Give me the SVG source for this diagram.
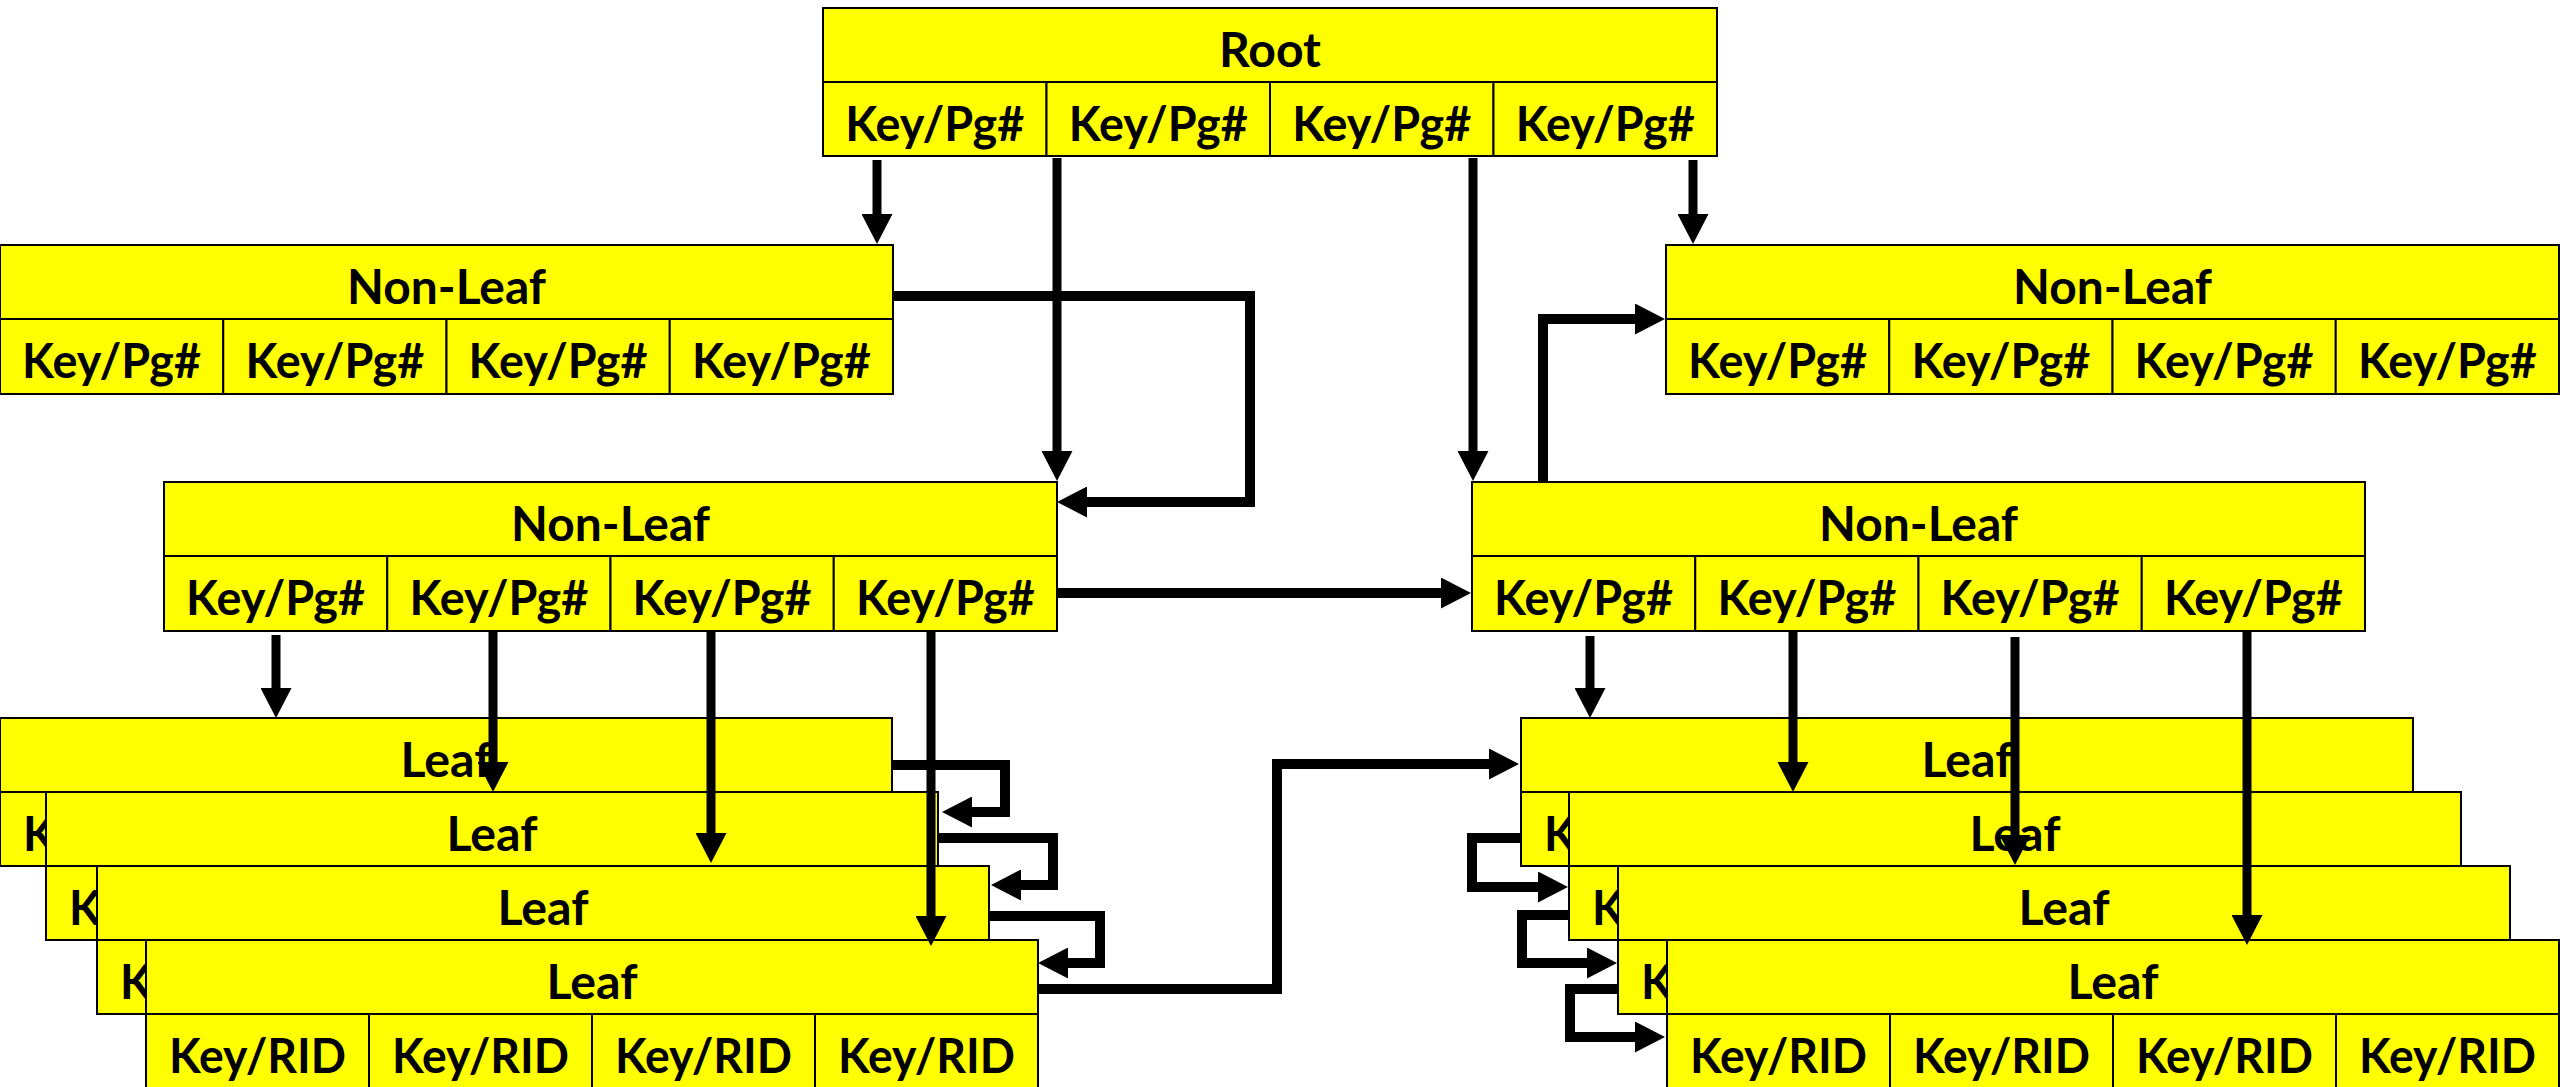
<svg xmlns="http://www.w3.org/2000/svg" width="2560" height="1087" viewBox="0 0 2560 1087">
<style>
.box{fill:#ffff00;stroke:#000;stroke-width:2}
.t{font-family:Lato,"Open Sans","Liberation Sans",sans-serif;font-weight:700;font-size:47px;text-anchor:middle;fill:#000}
.arr{fill:none;stroke:#000;stroke-width:9;stroke-linecap:butt;stroke-linejoin:miter;marker-end:url(#ah)}
.lnk{fill:none;stroke:#000;stroke-width:10;stroke-linecap:butt;stroke-linejoin:miter;marker-end:url(#ah)}
</style>
<defs>
<marker id="ah" markerUnits="userSpaceOnUse" viewBox="0 0 30 31" markerWidth="30" markerHeight="31" refX="4" refY="15.5" orient="auto">
<path d="M0,0 L30,15.5 L0,31 Z" fill="#000"/>
</marker>
</defs>
<rect width="2560" height="1087" fill="#fff"/>

<g id="root">
<rect class="box" x="823" y="8" width="894" height="74"/>
<rect class="box" x="823" y="82" width="223.5" height="74"/>
<rect class="box" x="1046.5" y="82" width="223.5" height="74"/>
<rect class="box" x="1270" y="82" width="223.5" height="74"/>
<rect class="box" x="1493.5" y="82" width="223.5" height="74"/>
<text class="t" x="1270" y="67" textLength="102" lengthAdjust="spacingAndGlyphs">Root</text>
<text class="t" x="934.75" y="141" textLength="179" lengthAdjust="spacingAndGlyphs">Key/Pg#</text>
<text class="t" x="1158.25" y="141" textLength="179" lengthAdjust="spacingAndGlyphs">Key/Pg#</text>
<text class="t" x="1381.75" y="141" textLength="179" lengthAdjust="spacingAndGlyphs">Key/Pg#</text>
<text class="t" x="1605.25" y="141" textLength="179" lengthAdjust="spacingAndGlyphs">Key/Pg#</text>
</g>

<g id="nonleaf-1">
<rect class="box" x="0" y="245" width="893" height="74"/>
<rect class="box" x="0" y="319" width="223.25" height="75"/>
<rect class="box" x="223.25" y="319" width="223.25" height="75"/>
<rect class="box" x="446.5" y="319" width="223.25" height="75"/>
<rect class="box" x="669.75" y="319" width="223.25" height="75"/>
<text class="t" x="446.5" y="304" textLength="199" lengthAdjust="spacingAndGlyphs">Non-Leaf</text>
<text class="t" x="111.6" y="378" textLength="179" lengthAdjust="spacingAndGlyphs">Key/Pg#</text>
<text class="t" x="334.9" y="378" textLength="179" lengthAdjust="spacingAndGlyphs">Key/Pg#</text>
<text class="t" x="558.1" y="378" textLength="179" lengthAdjust="spacingAndGlyphs">Key/Pg#</text>
<text class="t" x="781.4" y="378" textLength="179" lengthAdjust="spacingAndGlyphs">Key/Pg#</text>
</g>

<g id="nonleaf-2">
<rect class="box" x="164" y="482" width="893" height="74"/>
<rect class="box" x="164" y="556" width="223.25" height="75"/>
<rect class="box" x="387.25" y="556" width="223.25" height="75"/>
<rect class="box" x="610.5" y="556" width="223.25" height="75"/>
<rect class="box" x="833.75" y="556" width="223.25" height="75"/>
<text class="t" x="610.5" y="541" textLength="199" lengthAdjust="spacingAndGlyphs">Non-Leaf</text>
<text class="t" x="275.6" y="615" textLength="179" lengthAdjust="spacingAndGlyphs">Key/Pg#</text>
<text class="t" x="498.9" y="615" textLength="179" lengthAdjust="spacingAndGlyphs">Key/Pg#</text>
<text class="t" x="722.1" y="615" textLength="179" lengthAdjust="spacingAndGlyphs">Key/Pg#</text>
<text class="t" x="945.4" y="615" textLength="179" lengthAdjust="spacingAndGlyphs">Key/Pg#</text>
</g>

<g id="nonleaf-3">
<rect class="box" x="1666" y="245" width="893" height="74"/>
<rect class="box" x="1666" y="319" width="223.25" height="75"/>
<rect class="box" x="1889.25" y="319" width="223.25" height="75"/>
<rect class="box" x="2112.5" y="319" width="223.25" height="75"/>
<rect class="box" x="2335.75" y="319" width="223.25" height="75"/>
<text class="t" x="2112.5" y="304" textLength="199" lengthAdjust="spacingAndGlyphs">Non-Leaf</text>
<text class="t" x="1777.6" y="378" textLength="179" lengthAdjust="spacingAndGlyphs">Key/Pg#</text>
<text class="t" x="2000.9" y="378" textLength="179" lengthAdjust="spacingAndGlyphs">Key/Pg#</text>
<text class="t" x="2224.1" y="378" textLength="179" lengthAdjust="spacingAndGlyphs">Key/Pg#</text>
<text class="t" x="2447.4" y="378" textLength="179" lengthAdjust="spacingAndGlyphs">Key/Pg#</text>
</g>

<g id="nonleaf-4">
<rect class="box" x="1472" y="482" width="893" height="74"/>
<rect class="box" x="1472" y="556" width="223.25" height="75"/>
<rect class="box" x="1695.25" y="556" width="223.25" height="75"/>
<rect class="box" x="1918.5" y="556" width="223.25" height="75"/>
<rect class="box" x="2141.75" y="556" width="223.25" height="75"/>
<text class="t" x="1918.5" y="541" textLength="199" lengthAdjust="spacingAndGlyphs">Non-Leaf</text>
<text class="t" x="1583.6" y="615" textLength="179" lengthAdjust="spacingAndGlyphs">Key/Pg#</text>
<text class="t" x="1806.9" y="615" textLength="179" lengthAdjust="spacingAndGlyphs">Key/Pg#</text>
<text class="t" x="2030.1" y="615" textLength="179" lengthAdjust="spacingAndGlyphs">Key/Pg#</text>
<text class="t" x="2253.4" y="615" textLength="179" lengthAdjust="spacingAndGlyphs">Key/Pg#</text>
</g>

<g id="leaf-l1">
<rect class="box" x="0" y="718" width="892" height="74"/>
<rect class="box" x="0" y="792" width="223" height="74"/>
<rect class="box" x="223" y="792" width="223" height="74"/>
<rect class="box" x="446" y="792" width="223" height="74"/>
<rect class="box" x="669" y="792" width="223" height="74"/>
<text class="t" x="446" y="777" textLength="91" lengthAdjust="spacingAndGlyphs">Leaf</text>
<text class="t" x="111.5" y="851" textLength="177" lengthAdjust="spacingAndGlyphs">Key/RID</text>
</g>

<g id="leaf-l2">
<rect class="box" x="46" y="792" width="892" height="74"/>
<rect class="box" x="46" y="866" width="223" height="74"/>
<rect class="box" x="269" y="866" width="223" height="74"/>
<rect class="box" x="492" y="866" width="223" height="74"/>
<rect class="box" x="715" y="866" width="223" height="74"/>
<text class="t" x="492" y="851" textLength="91" lengthAdjust="spacingAndGlyphs">Leaf</text>
<text class="t" x="157.5" y="925" textLength="177" lengthAdjust="spacingAndGlyphs">Key/RID</text>
</g>

<g id="leaf-l3">
<rect class="box" x="97" y="866" width="892" height="74"/>
<rect class="box" x="97" y="940" width="223" height="74"/>
<rect class="box" x="320" y="940" width="223" height="74"/>
<rect class="box" x="543" y="940" width="223" height="74"/>
<rect class="box" x="766" y="940" width="223" height="74"/>
<text class="t" x="543" y="925" textLength="91" lengthAdjust="spacingAndGlyphs">Leaf</text>
<text class="t" x="208.5" y="999" textLength="177" lengthAdjust="spacingAndGlyphs">Key/RID</text>
</g>

<g id="leaf-l4">
<rect class="box" x="146" y="940" width="892" height="74"/>
<rect class="box" x="146" y="1014" width="223" height="74"/>
<rect class="box" x="369" y="1014" width="223" height="74"/>
<rect class="box" x="592" y="1014" width="223" height="74"/>
<rect class="box" x="815" y="1014" width="223" height="74"/>
<text class="t" x="592" y="999" textLength="91" lengthAdjust="spacingAndGlyphs">Leaf</text>
<text class="t" x="257.5" y="1073" textLength="177" lengthAdjust="spacingAndGlyphs">Key/RID</text>
<text class="t" x="480.5" y="1073" textLength="177" lengthAdjust="spacingAndGlyphs">Key/RID</text>
<text class="t" x="703.5" y="1073" textLength="177" lengthAdjust="spacingAndGlyphs">Key/RID</text>
<text class="t" x="926.5" y="1073" textLength="177" lengthAdjust="spacingAndGlyphs">Key/RID</text>
</g>

<g id="leaf-r1">
<rect class="box" x="1521" y="718" width="892" height="74"/>
<rect class="box" x="1521" y="792" width="223" height="74"/>
<rect class="box" x="1744" y="792" width="223" height="74"/>
<rect class="box" x="1967" y="792" width="223" height="74"/>
<rect class="box" x="2190" y="792" width="223" height="74"/>
<text class="t" x="1967" y="777" textLength="91" lengthAdjust="spacingAndGlyphs">Leaf</text>
<text class="t" x="1632.5" y="851" textLength="177" lengthAdjust="spacingAndGlyphs">Key/RID</text>
</g>

<g id="leaf-r2">
<rect class="box" x="1569" y="792" width="892" height="74"/>
<rect class="box" x="1569" y="866" width="223" height="74"/>
<rect class="box" x="1792" y="866" width="223" height="74"/>
<rect class="box" x="2015" y="866" width="223" height="74"/>
<rect class="box" x="2238" y="866" width="223" height="74"/>
<text class="t" x="2015" y="851" textLength="91" lengthAdjust="spacingAndGlyphs">Leaf</text>
<text class="t" x="1680.5" y="925" textLength="177" lengthAdjust="spacingAndGlyphs">Key/RID</text>
</g>

<g id="leaf-r3">
<rect class="box" x="1618" y="866" width="892" height="74"/>
<rect class="box" x="1618" y="940" width="223" height="74"/>
<rect class="box" x="1841" y="940" width="223" height="74"/>
<rect class="box" x="2064" y="940" width="223" height="74"/>
<rect class="box" x="2287" y="940" width="223" height="74"/>
<text class="t" x="2064" y="925" textLength="91" lengthAdjust="spacingAndGlyphs">Leaf</text>
<text class="t" x="1729.5" y="999" textLength="177" lengthAdjust="spacingAndGlyphs">Key/RID</text>
</g>

<g id="leaf-r4">
<rect class="box" x="1667" y="940" width="892" height="74"/>
<rect class="box" x="1667" y="1014" width="223" height="74"/>
<rect class="box" x="1890" y="1014" width="223" height="74"/>
<rect class="box" x="2113" y="1014" width="223" height="74"/>
<rect class="box" x="2336" y="1014" width="223" height="74"/>
<text class="t" x="2113" y="999" textLength="91" lengthAdjust="spacingAndGlyphs">Leaf</text>
<text class="t" x="1778.5" y="1073" textLength="177" lengthAdjust="spacingAndGlyphs">Key/RID</text>
<text class="t" x="2001.5" y="1073" textLength="177" lengthAdjust="spacingAndGlyphs">Key/RID</text>
<text class="t" x="2224.5" y="1073" textLength="177" lengthAdjust="spacingAndGlyphs">Key/RID</text>
<text class="t" x="2447.5" y="1073" textLength="177" lengthAdjust="spacingAndGlyphs">Key/RID</text>
</g>

<g id="connectors">
<path class="arr" d="M877,160 V218"/>
<path class="arr" d="M1057,158 V455"/>
<path class="arr" d="M1473,158 V455"/>
<path class="arr" d="M1693,160 V218"/>
<path class="arr" d="M276,635 V692"/>
<path class="arr" d="M493,632 V766"/>
<path class="arr" d="M711,632 V837"/>
<path class="arr" d="M931,632 V920"/>
<path class="arr" d="M1590,636 V692"/>
<path class="arr" d="M1793,632 V766"/>
<path class="arr" d="M2015,637 V839"/>
<path class="arr" d="M2247,632 V919"/>
<path class="lnk" d="M893,296 H1250 V502 H1083"/>
<path class="lnk" d="M1057,593 H1445"/>
<path class="lnk" d="M1543,482 V319 H1639"/>
<path class="lnk" d="M892,765 H1005 V812 H968"/>
<path class="lnk" d="M938,838 H1053 V885 H1017"/>
<path class="lnk" d="M989,916 H1100 V963 H1064"/>
<path class="lnk" d="M1038,989 H1277 V764 H1493"/>
<path class="lnk" d="M1521,838 H1472 V887 H1542"/>
<path class="lnk" d="M1569,915 H1522 V963 H1591"/>
<path class="lnk" d="M1618,989 H1570 V1037 H1639"/>
</g>
</svg>
